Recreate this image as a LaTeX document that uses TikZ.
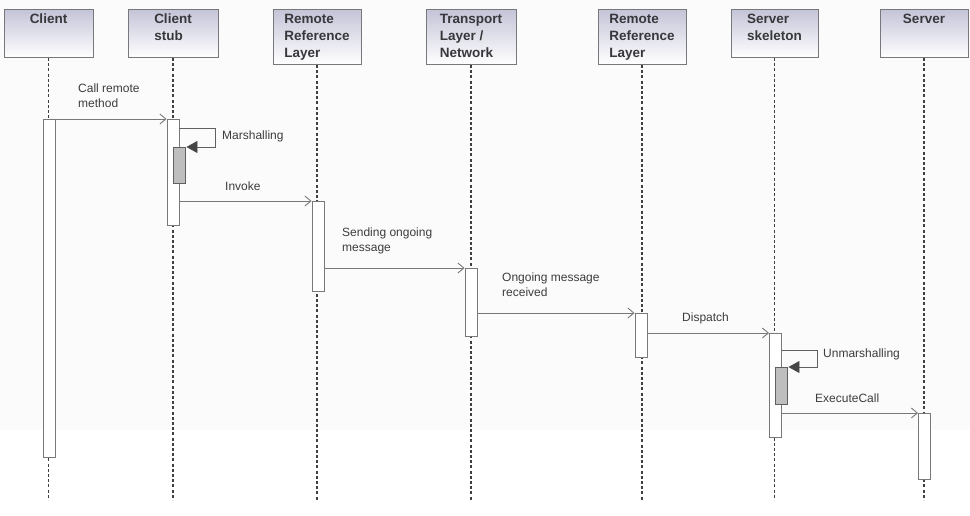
\documentclass[tikz,border=0pt]{standalone}
\usepackage{fontspec}
\setmainfont{Liberation Sans}
\usetikzlibrary{arrows.meta}
\definecolor{hdrtop}{RGB}{196,196,216}
\definecolor{hdrline}{RGB}{120,120,124}
\definecolor{txt}{RGB}{55,55,60}
\definecolor{lbl}{RGB}{60,60,62}
\definecolor{ln}{RGB}{120,120,120}
\definecolor{grey}{RGB}{190,190,190}
\definecolor{tipc}{RGB}{70,70,70}
\tikzset{
  hdr/.style={draw=hdrline, line width=1pt, top color=hdrtop, bottom color=white,
    minimum width=89pt, text width=72pt, align=left, inner sep=0pt, anchor=north,
    font=\fontsize{13.5}{17}\selectfont\bfseries, text=txt},
  hdrtext/.style={anchor=north, align=left, inner sep=0pt,
    font=\fontsize{13.5}{17}\selectfont\bfseries, text=txt},
  life/.style={draw=black!75, line width=1.4pt, dash pattern=on 3pt off 2.2pt},
  actbar/.style={draw=ln, fill=white, line width=0.9pt, minimum width=12pt, inner sep=0pt, anchor=north},
  greybar/.style={draw=ln!80!black, fill=grey, line width=0.9pt, minimum width=12pt, inner sep=0pt, anchor=north},
  msg/.style={draw=ln, line width=0.9pt, -{Straight Barb[length=6pt,width=10pt,line width=0.9pt]}},
  selfmsg/.style={draw=ln!80!black, line width=0.9pt, -{Triangle[length=11pt,width=12pt,color=tipc]}, shorten >=1pt},
  lab/.style={inner sep=0pt, align=left, text=lbl, font=\fontsize{12}{15}\selectfont}
}
\begin{document}
\begin{tikzpicture}[x=1pt,y=-1pt]
\useasboundingbox (0,0) rectangle (970,515);
\fill[white] (0,0) rectangle (970,515);
\fill[black!1.5] (0,0) rectangle (970,430);
% headers
\node[hdr, minimum width=89pt, minimum height=48pt] (h1) at (48.5,9) {};
\node[hdrtext] at ([yshift=-5pt]h1.north) {Client};
\node[hdr, minimum width=90pt, minimum height=48pt] (h2) at (173,9) {};
\node[hdrtext] at ([yshift=-5pt]h2.north) {Client\\stub};
\node[hdr, minimum width=88pt, minimum height=55pt] (h3) at (317,9) {};
\node[hdrtext] at ([yshift=-5pt]h3.north) {Remote\\Reference\\Layer};
\node[hdr, minimum width=90pt, minimum height=55pt] (h4) at (471,9) {};
\node[hdrtext] at ([yshift=-5pt]h4.north) {Transport\\Layer /\\Network};
\node[hdr, minimum width=88pt, minimum height=55pt] (h5) at (642,9) {};
\node[hdrtext] at ([yshift=-5pt]h5.north) {Remote\\Reference\\Layer};
\node[hdr, minimum width=87pt, minimum height=48pt] (h6) at (774.5,9) {};
\node[hdrtext] at ([yshift=-5pt]h6.north) {Server\\skeleton};
\node[hdr, minimum width=88pt, minimum height=48pt] (h7) at (924,9) {};
\node[hdrtext] at ([yshift=-5pt]h7.north) {Server};
% lifeline ends
\coordinate (e1) at (48.5,500);
\coordinate (e2) at (173,500);
\coordinate (e3) at (317,500);
\coordinate (e4) at (471,500);
\coordinate (e5) at (642,500);
\coordinate (e6) at (774.5,500);
\coordinate (e7) at (924,500);
\foreach \i in {1,...,7} \draw[life] (h\i.south) -- (e\i);
% activation bars
\node[actbar, minimum height=338pt] (b1) at (49,119) {};
\node[actbar, minimum height=106pt] (b2) at (173,119) {};
\node[actbar, minimum height=90pt] (b3) at (318,201) {};
\node[actbar, minimum height=68pt] (b4) at (471,268) {};
\node[actbar, minimum height=44pt] (b5) at (641,313) {};
\node[actbar, minimum height=104pt] (b6) at (775.5,333) {};
\node[actbar, minimum height=66pt] (b7) at (924.5,413) {};
% nested (grey) bars
\node[greybar, minimum height=36pt] (g2) at (179,147) {};
\node[greybar, minimum height=37pt] (g6) at (781,367) {};
% messages
\draw[msg] (b1.north east) -- (b2.north west);
\coordinate (m1) at (215,128);
\draw[selfmsg] (b2.east |- m1) -- (m1) |- (g2.north east);
\draw[msg] (b2.east |- b3.north west) -- (b3.north west);
\draw[msg] (b3.east |- b4.north west) -- (b4.north west);
\draw[msg] (b4.east |- b5.north west) -- (b5.north west);
\draw[msg] (b5.east |- b6.north west) -- (b6.north west);
\coordinate (m6) at (817,350);
\draw[selfmsg] (b6.east |- m6) -- (m6) |- (g6.north east);
\draw[msg] (b6.east |- b7.north west) -- (b7.north west);
% labels
\node[lab, anchor=north west] (l1) at (78,84) {Call remote\\method};
\node[lab, anchor=west] (l2) at (222,136) {Marshalling};
\node[lab, anchor=west] (l3) at (225,186) {Invoke};
\node[lab, anchor=north west] (l4) at (342,228) {Sending ongoing\\message};
\node[lab, anchor=north west] (l5) at (502,273) {Ongoing message\\received};
\node[lab, anchor=west] (l6) at (682,318) {Dispatch};
\node[lab, anchor=west] (l7) at (823,354) {Unmarshalling};
\node[lab, anchor=west] (l8) at (815,398) {ExecuteCall};
\end{tikzpicture}
\end{document}
